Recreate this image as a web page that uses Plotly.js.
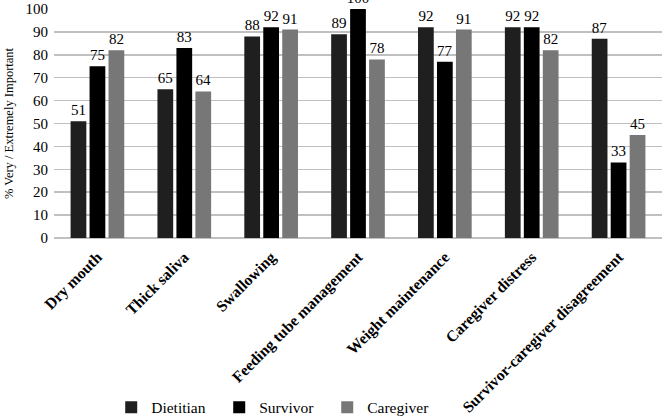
<!DOCTYPE html>
<html>
<head>
<meta charset="utf-8">
<script src="https://cdn.plot.ly/plotly-3.0.1.min.js"></script>
<style>html,body{margin:0;padding:0;background:#fff;}#chart{width:662px;height:418px;}</style>
</head>
<body>
<div id="chart"></div>
<script>
const categories = ["Dry mouth", "Thick saliva", "Swallowing", "Feeding tube management", "Weight maintenance", "Caregiver distress", "Survivor-caregiver disagreement"];
const dietitian = [51, 65, 88, 89, 92, 92, 87];
const survivor = [75, 83, 92, 100, 77, 92, 33];
const caregiver = [82, 64, 91, 78, 91, 82, 45];
const seriesNames = ["Dietitian", "Survivor", "Caregiver"];
const yTicks = [0, 10, 20, 30, 40, 50, 60, 70, 80, 90, 100];

const colors = ["#1f1f1f", "#000000", "#777777"];
const font = "'Liberation Serif', 'Times New Roman', 'DejaVu Serif', serif";
const data = [dietitian, survivor, caregiver].map((vals, i) => ({
  type: "bar",
  name: seriesNames[i],
  x: categories,
  y: vals,
  text: vals.map(String),
  textposition: "outside",
  constraintext: "none",
  cliponaxis: false,
  textfont: {family: font, size: 15, color: "#000"},
  marker: {color: colors[i]}
}));

const layout = {
  width: 662, height: 418,
  margin: {l: 54, r: 0, t: 9, b: 180},
  paper_bgcolor: "#fff", plot_bgcolor: "#fff",
  barmode: "group",
  bargap: 0.345,
  bargroupgap: 0.17,
  font: {family: font, color: "#000"},
  xaxis: {
    tickangle: -45,
    tickfont: {family: font, size: 15.7, color: "#000", weight: "bold"},
    showline: false,
    ticks: "",
    ticklabelstandoff: 6,
    automargin: false
  },
  yaxis: {
    range: [0, 100],
    tickvals: yTicks,
    ticktext: yTicks.map(String),
    tickfont: {family: font, size: 15, color: "#000"},
    gridcolor: "#c0c0c0",
    gridwidth: 1.5,
    zeroline: true,
    zerolinecolor: "#c0c0c0",
    zerolinewidth: 1.5,
    ticks: "",
    ticklen: 0,
    ticklabelstandoff: 5,
    automargin: false,
    title: {text: "% Very / Extremely Important", font: {family: font, size: 12.5, color: "#000"}, standoff: 9}
  },
  showlegend: true,
  legend: {
    orientation: "h",
    xref: "container", yref: "container",
    x: 0.168, xanchor: "left",
    y: 0.025, yanchor: "middle",
    font: {family: font, size: 15.5, color: "#000"},
    entrywidth: 63,
    entrywidthmode: "pixels",
    traceorder: "normal"
  }
};

Plotly.newPlot("chart", data, layout, {displayModeBar: false, staticPlot: true});
</script>
</body>
</html>
